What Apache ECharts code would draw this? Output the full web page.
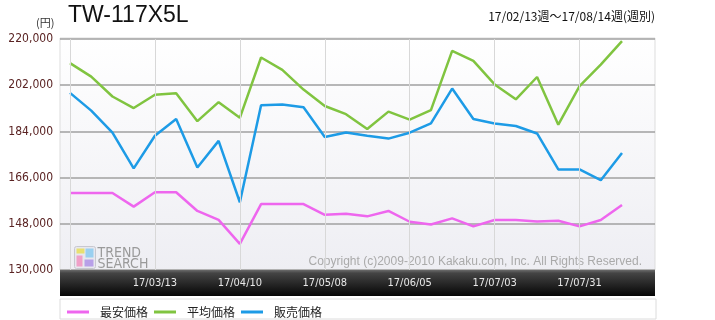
<!DOCTYPE html>
<html><head><meta charset="utf-8">
<script src="https://cdn.jsdelivr.net/npm/echarts@6/dist/echarts.min.js"></script>
<style>html,body{margin:0;padding:0;background:#fff}#c{width:715px;height:320px}</style>
</head><body><div id="c"></div>
<script>
const categories = ['17/02/13','17/02/20','17/02/27','17/03/06','17/03/13','17/03/20','17/03/27','17/04/03','17/04/10','17/04/17','17/04/24','17/05/01','17/05/08','17/05/15','17/05/22','17/05/29','17/06/05','17/06/12','17/06/19','17/06/26','17/07/03','17/07/10','17/07/17','17/07/24','17/07/31','17/08/07','17/08/14'];
const minPrice = [160000,160000,160000,154700,160300,160300,153000,149500,140200,155700,155700,155700,151500,151900,150900,153000,148800,147700,150100,147000,149500,149500,148900,149200,147000,149500,155300];
const avgPrice = [210600,205350,197600,193100,198300,198900,188000,195400,189300,212800,208000,200300,193900,190700,184900,191700,188600,192300,215400,211500,202300,196500,205200,186600,201600,210000,219200];
const salePrice = [199000,192100,183500,169600,182300,188800,169900,180300,156400,194200,194500,193400,181800,183600,182300,181200,183500,187100,200700,188800,187100,186100,183200,169200,169200,165000,175600];
const seriesNames = ['最安価格','平均価格','販売価格'];
const yTicks = {min:130000, max:220000, step:18000};
const title = 'TW-117X5L';
const rangeText = '17/02/13週～17/08/14週(週別)';
const unitText = '(円)';
const copyrightText = 'Copyright (c)2009-2010 Kakaku.com, Inc. All Rights Reserved.';

const colors = ['#ee66ee','#80c440','#1d9be6'];
const narrow = "'Liberation Sans Narrow','DejaVu Sans Condensed','Liberation Sans',sans-serif";
const chart = echarts.init(document.getElementById('c'), null, {renderer:'canvas'});
const fmt = v => v.toString().replace(/\B(?=(\d{3})+(?!\d))/g, ',');

chart.setOption({
  animation:false,
  grid:[
    {left:60, right:60, top:39, bottom:50},
    {left:70, right:93, top:39, bottom:50}
  ],
  xAxis:[
    {gridIndex:0, type:'value', min:0, max:1, show:false},
    {gridIndex:1, type:'category', boundaryGap:false, data:categories, z:20,
     axisLine:{show:false}, axisTick:{show:false},
     axisLabel:{interval:(i)=> i%4===0 && i>0, color:'#e8e8e8', fontSize:11, fontFamily:narrow, margin:8},
     splitLine:{show:true, interval:3, lineStyle:{color:'#d8d8d8', width:1}}}
  ],
  yAxis:[
    {gridIndex:0, type:'value', min:yTicks.min, max:yTicks.max, interval:yTicks.step,
     axisLine:{show:false}, axisTick:{show:false},
     axisLabel:{formatter:fmt, color:'#5a2323', fontSize:12, fontFamily:narrow, margin:7},
     splitLine:{lineStyle:{color:'#a0a0a0', width:1.5}}},
    {gridIndex:1, type:'value', min:yTicks.min, max:yTicks.max, show:false, splitLine:{show:false}}
  ],
  legend:{
    left:62, top:301, itemWidth:22, itemHeight:3, itemGap:6, icon:'rect',
    textStyle:{fontSize:12, color:'#222', fontFamily:"'Noto Sans CJK JP',sans-serif", padding:[0,0,0,6]},
    data:seriesNames
  },
  series: [minPrice, avgPrice, salePrice].map((d,k)=>({
    name:seriesNames[k], type:'line', xAxisIndex:1, yAxisIndex:1, data:d,
    symbol:'none', lineStyle:{width:2.5, color:colors[k]}, itemStyle:{color:colors[k]}, z:5
  })),
  graphic:[
    {type:'rect', z:-10, shape:{x:60,y:38,width:595,height:232},
     style:{fill:new echarts.graphic.LinearGradient(0,0,0,1,[{offset:0,color:'#ffffff'},{offset:1,color:'#eeeef3'}]), stroke:'#dddddd', lineWidth:1}},
    {type:'rect', z:10, shape:{x:60,y:270,width:595,height:26},
     style:{fill:new echarts.graphic.LinearGradient(0,0,0,1,[{offset:0,color:'#6a6a6a'},{offset:0.12,color:'#444'},{offset:1,color:'#050505'}])}},
    {type:'rect', z:1, shape:{x:60,y:299,width:596,height:20}, style:{fill:'#fff', stroke:'#dcdcdc', lineWidth:1}},
    {type:'text', left:68, top:4, style:{text:title, font:"23px 'Liberation Sans',sans-serif", fill:'#111'}},
    {type:'text', left:36, top:17, style:{text:unitText, font:"11px 'Noto Sans CJK JP',sans-serif", fill:'#333'}},
    {type:'text', right:60, top:10, style:{text:rangeText, font:"12px 'Noto Sans CJK JP',sans-serif", fill:'#111'}},
    {type:'text', z:3, right:73, top:256, style:{text:copyrightText, font:"12px 'Liberation Sans',sans-serif", fill:'#aaaaaa'}},
    {type:'group', left:74, top:246, z:3, children:[
      {type:'rect', shape:{x:0,y:0,width:21,height:22,r:2}, style:{fill:'#e8e8ee', stroke:'#c8c8d0'}},
      {type:'rect', shape:{x:2,y:2,width:8,height:5}, style:{fill:'#e8e070'}},
      {type:'rect', shape:{x:11,y:2,width:8,height:9}, style:{fill:'#9ad0f0'}},
      {type:'rect', shape:{x:2,y:9,width:6,height:11}, style:{fill:'#f0a0c8'}},
      {type:'rect', shape:{x:10,y:13,width:9,height:7}, style:{fill:'#b8a0e8'}},
      {type:'text', x:23, y:0, style:{text:'TREND', font:"14px "+narrow, fill:'#9a9a9a'}},
      {type:'text', x:23, y:11, style:{text:'SEARCH', font:"14px "+narrow, fill:'#9a9a9a'}}
    ]}
  ]
});
</script></body></html>
